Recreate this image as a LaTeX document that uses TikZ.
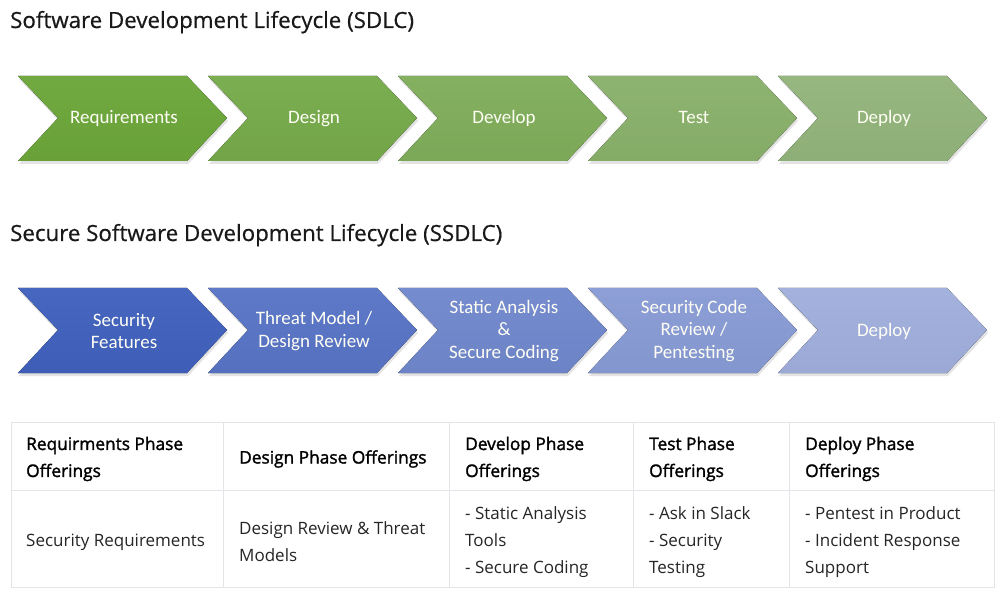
\documentclass[tikz,border=0pt]{standalone}
\usepackage{fontspec}
\setmainfont{Open Sans}
\newfontfamily\chevfont{Carlito}
\newfontfamily\headfont{Open Sans}[FakeBold=1.6]
\newfontfamily\titlefont{Open Sans}[FakeBold=0.6]
\usetikzlibrary{shadows}
\definecolor{g1}{HTML}{6CA63A}
\definecolor{g5}{HTML}{92B47A}
\definecolor{b1}{HTML}{3F60BD}
\definecolor{b5}{HTML}{A0AEDC}
\definecolor{gridc}{HTML}{E3E5E8}
\definecolor{bodytext}{HTML}{262626}
\tikzset{
  chev/.style={draw=none, drop shadow={opacity=0.22, shadow xshift=1pt, shadow yshift=-3pt}},
  chevtext/.style={font=\chevfont\fontsize{19}{22.5}\selectfont, text=white!96!yellow, align=center, inner sep=0pt},
  titletext/.style={font=\titlefont\fontsize{22.3}{26}\selectfont, anchor=base west, inner sep=0pt, text=black!90},
  headcell/.style={font=\headfont\fontsize{17.3}{27}\selectfont, anchor=west, align=left, inner sep=0pt, text=black},
  bodycell/.style={font=\fontsize{17}{27}\selectfont, anchor=west, align=left, inner sep=0pt, text=bodytext},
  gridline/.style={draw=gridc, line width=1pt}
}
\begin{document}
\begin{tikzpicture}[x=1pt,y=-1pt]
\useasboundingbox (0,0) rectangle (1000,593);
\fill[white] (0,0) rectangle (1000,593);

% titles
\node[titletext] (t1) at (10,28) {Software Development Lifecycle (SDLC)};
\node[titletext] (t2) at (10,241) {Secure Software Development Lifecycle (SSDLC)};

% SDLC chevrons
\foreach \i/\lab in {0/Requirements,1/Design,2/Develop,3/Test,4/Deploy}{
  \pgfmathsetmacro{\xo}{18+190*\i}
  \pgfmathtruncatemacro{\t}{100-25*\i}
  \colorlet{basec}{g1!\t!g5}
  \fill[chev, top color=basec!96!white, bottom color=basec!97!black]
    (\xo,76) -- ++(169,0) -- ++(40,42) -- ++(-40,43) -- ++(-169,0) -- ++(40,-43) -- cycle;
  \node[chevtext, anchor=base] (s\i) at (\xo+106,124) {\lab};
}

% SSDLC chevrons
\foreach \i/\lab in {0/{Security\\Features},1/{Threat Model /\\Design Review},2/{Static Analysis\\\&\\Secure Coding},3/{Security Code\\Review /\\Pentesting},4/{Deploy}}{
  \pgfmathsetmacro{\xo}{18+190*\i}
  \pgfmathtruncatemacro{\t}{100-25*\i}
  \colorlet{basec}{b1!\t!b5}
  \fill[chev, top color=basec!96!white, bottom color=basec!97!black]
    (\xo,288) -- ++(169,0) -- ++(40,42) -- ++(-40,43) -- ++(-169,0) -- ++(40,-43) -- cycle;
  \node[chevtext] (p\i) at (\xo+106,331) {\lab};
}

% table grid
\draw[gridline] (11,422) rectangle (994,587);
\draw[gridline] (11,490) -- (994,490);
\foreach \xx in {223,449,633,789}{
  \draw[gridline] (\xx,422) -- (\xx,587);
}

% header cells
\node[headcell] (h1) at (26,459) {Requirments Phase\\Offerings};
\node[headcell] (h2) at (239,459) {Design Phase Offerings};
\node[headcell] (h3) at (465,459) {Develop Phase\\Offerings};
\node[headcell] (h4) at (649,459) {Test Phase\\Offerings};
\node[headcell] (h5) at (805,459) {Deploy Phase\\Offerings};

% body cells
\node[bodycell] (c1) at (26,542) {Security Requirements};
\node[bodycell] (c2) at (239,542) {Design Review \& Threat\\Models};
\node[bodycell] (c3) at (465,542) {- Static Analysis\\Tools\\- Secure Coding};
\node[bodycell] (c4) at (649,542) {- Ask in Slack\\- Security\\Testing};
\node[bodycell] (c5) at (805,542) {- Pentest in Product\\- Incident Response\\Support};
\end{tikzpicture}
\end{document}
